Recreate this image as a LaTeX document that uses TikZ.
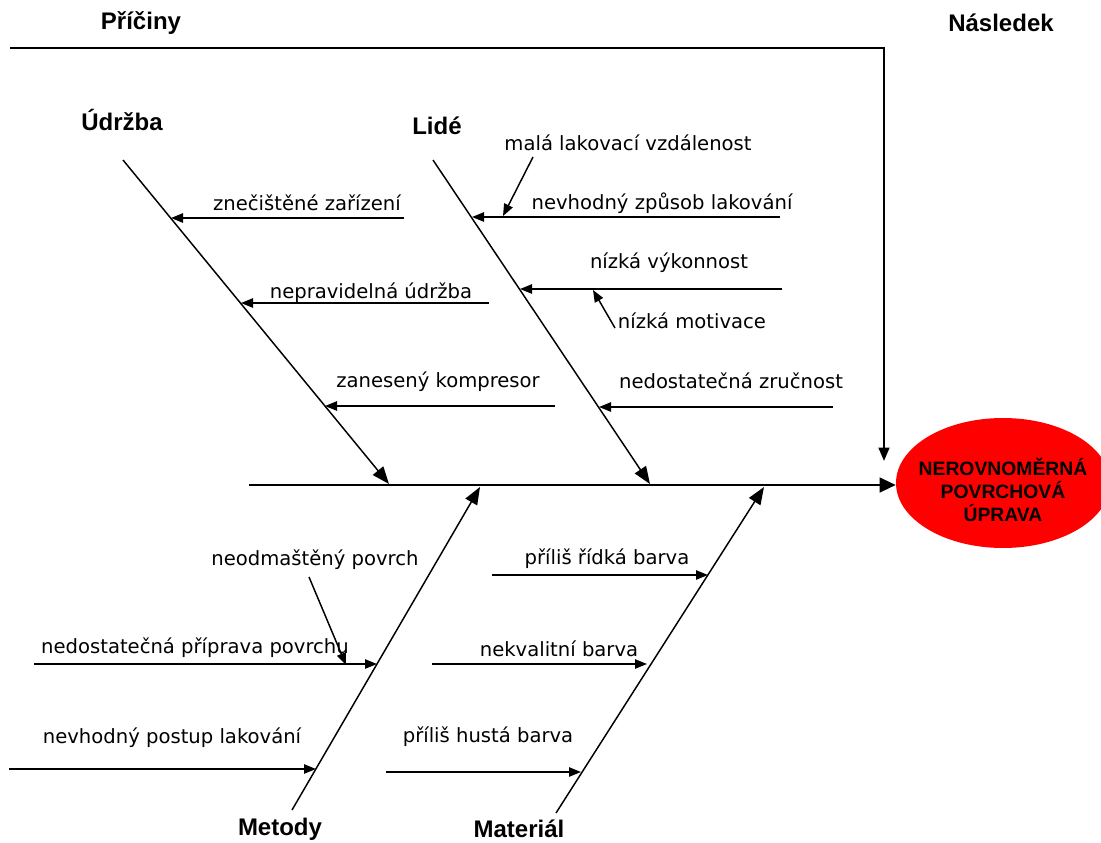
\documentclass[tikz,border=0pt]{standalone}
\usepackage{fontspec}
\setmainfont{DejaVu Sans}
\newfontfamily\arialf{Liberation Sans}
\usetikzlibrary{arrows.meta,shapes.geometric}
\begin{document}
\begin{tikzpicture}[x=0.75pt,y=-0.75pt,
  cause/.style={font=\fontsize{14.7}{17}\selectfont, inner sep=0pt, anchor=center},
  cat/.style={font=\arialf\bfseries\fontsize{18}{21}\selectfont, inner sep=0pt},
  bone/.style={line width=1.1pt, -{Triangle[length=13pt,width=10pt]}},
  sub/.style={line width=1.1pt, -{Triangle[length=9pt,width=7pt]}},
  thin/.style={line width=1.1pt, -{Triangle[length=9pt,width=7pt]}},
  spine/.style={line width=1.6pt, -{Triangle[length=12pt,width=11pt]}},
]
\useasboundingbox (0,0) rectangle (1101,843);
\clip (0,0) rectangle (1101,843);

% effect
\node[ellipse, fill=red, draw=none, minimum width=160.5pt, minimum height=97.5pt,
      inner sep=0pt] (eff) at (1003,483) {};
\node[align=center, inner sep=0pt,
      font=\arialf\bfseries\fontsize{14.5}{17.2}\selectfont] (efft) at (1003,490)
      {NEROVNOMĚRNÁ\\POVRCHOVÁ\\ÚPRAVA};

% headings
\node[cat] (pric) at (141,23) {Příčiny};
\node[cat] (nasl) at (1001,23) {Následek};
\node[cat] (udr) at (122,120) {Údržba};
\node[cat] (lid) at (437,126) {Lidé};
\node[cat] (met) at (280,829) {Metody};
\node[cat] (mat) at (519,829) {Materiál};

% top frame arrow
\coordinate (tl) at (10,48);
\coordinate (tr) at (884,48);
\coordinate (td) at (884,461);
\draw[line width=1.8pt, -{Triangle[length=10pt,width=8pt]}] (tl) -- (tr) -- (td);

% main spine
\coordinate (sp) at (249,485);
\draw[spine] (sp) -- (sp -| eff.west);

% bones
\coordinate (u0) at (123,160);  \coordinate (u1) at (389,484);
\coordinate (l0) at (433,160);  \coordinate (l1) at (650,484);
\coordinate (m0) at (292,810);  \coordinate (m1) at (480,487);
\coordinate (a0) at (556,813);  \coordinate (a1) at (764,487);
\draw[bone] (u0) -- (u1);
\draw[bone] (l0) -- (l1);
\draw[bone] (m0) -- (m1);
\draw[bone] (a0) -- (a1);

% Udrzba causes
\coordinate (us1) at (404,218); \coordinate (ut1) at (171,218);
\coordinate (us2) at (489,303); \coordinate (ut2) at (241,303);
\coordinate (us3) at (555,406); \coordinate (ut3) at (325,406);
\draw[sub] (us1) -- (ut1);
\draw[sub] (us2) -- (ut2);
\draw[sub] (us3) -- (ut3);
\node[cause] (c1) at (307,203) {znečištěné zařízení};
\node[cause] (c2) at (371,293) {nepravidelná údržba};
\node[cause] (c3) at (438,382) {zanesený kompresor};

% Lide causes
\coordinate (ls1) at (780,217); \coordinate (lt1) at (472,217);
\coordinate (ls2) at (782,289); \coordinate (lt2) at (520,289);
\coordinate (ls3) at (833,407); \coordinate (lt3) at (599,407);
\draw[sub] (ls1) -- (lt1);
\draw[sub] (ls2) -- (lt2);
\draw[sub] (ls3) -- (lt3);
\node[cause] (c4) at (628,143) {malá lakovací vzdálenost};
\node[cause] (c5) at (662,203) {nevhodný způsob lakování};
\node[cause] (c6) at (669,263) {nízká výkonnost};
\node[cause] (c7) at (692,321) {nízká motivace};
\node[cause] (c8) at (731,381) {nedostatečná zručnost};
\coordinate (k4s) at (533,157); \coordinate (k4t) at (503,216);
\draw[thin] (k4s) -- (k4t);
\coordinate (k7s) at (615,328); \coordinate (k7t) at (593,290);
\draw[thin] (k7s) -- (k7t);

% Metody causes
\coordinate (ms1) at (34,664);  \coordinate (mt1) at (377,664);
\coordinate (ms2) at (9,769);   \coordinate (mt2) at (316,769);
\draw[sub] (ms1) -- (mt1);
\draw[sub] (ms2) -- (mt2);
\node[cause] (c9) at (315,560) {neodmaštěný povrch};
\node[cause] (c10) at (195,648) {nedostatečná příprava povrchu};
\node[cause] (c11) at (172,738) {nevhodný postup lakování};
\coordinate (k9s) at (309,577); \coordinate (k9t) at (346,665);
\draw[thin] (k9s) -- (k9t);

% Material causes
\coordinate (as1) at (492,575); \coordinate (at1) at (708,575);
\coordinate (as2) at (432,664); \coordinate (at2) at (647,664);
\coordinate (as3) at (386,772); \coordinate (at3) at (581,772);
\draw[sub] (as1) -- (at1);
\draw[sub] (as2) -- (at2);
\draw[sub] (as3) -- (at3);
\node[cause] (c12) at (607,559) {příliš řídká barva};
\node[cause] (c13) at (559,649) {nekvalitní barva};
\node[cause] (c14) at (488,737) {příliš hustá barva};
\end{tikzpicture}
\end{document}
